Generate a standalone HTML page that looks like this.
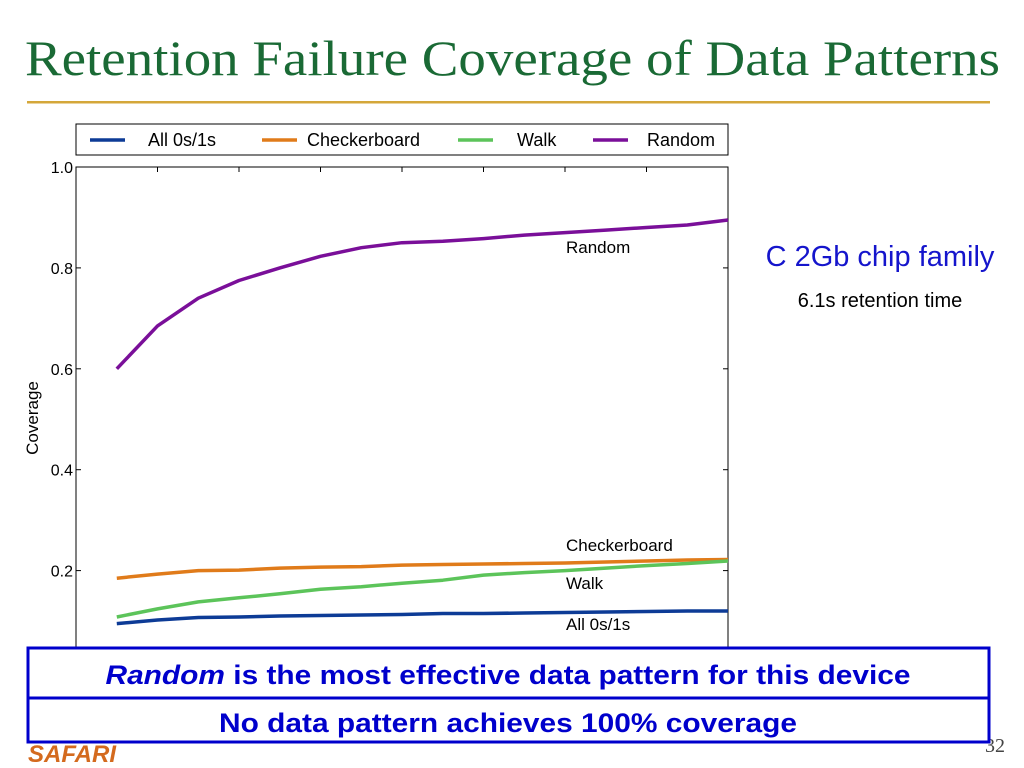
<!DOCTYPE html>
<html><head><meta charset="utf-8"><style>
html,body{margin:0;padding:0;background:#fff;}
svg{display:block;}
</style></head><body>
<svg id="s" width="1024" height="768" viewBox="0 0 1024 768" xmlns="http://www.w3.org/2000/svg">
<text x="25" y="75" font-family="Liberation Serif, serif" font-size="50" fill="#1a6a35" textLength="975" lengthAdjust="spacingAndGlyphs">Retention Failure Coverage of Data Patterns</text>
<rect x="27" y="101" width="963" height="2.5" fill="#d4a73a"/>
<g id="chart"></g>
<text x="880" y="266" text-anchor="middle" font-family="Liberation Sans, sans-serif" font-size="29" fill="#1515cc">C 2Gb chip family</text>
<text x="880" y="307" text-anchor="middle" font-family="Liberation Sans, sans-serif" font-size="20" fill="#000">6.1s retention time</text>
<text x="28" y="762" font-family="Liberation Sans, sans-serif" font-size="24" font-weight="bold" font-style="italic" fill="#d46a1e">SAFARI</text>
<text x="985" y="752" font-family="Liberation Serif, serif" font-size="20" fill="#444">32</text>
<rect x="28" y="648" width="961" height="50" fill="#fff" stroke="#0000cc" stroke-width="3"/>
<text x="508" y="684" text-anchor="middle" font-family="Liberation Sans, sans-serif" font-size="27" font-weight="bold" fill="#0000cc" textLength="805" lengthAdjust="spacingAndGlyphs"><tspan font-style="italic">Random</tspan> is the most effective data pattern for this device</text>
<rect x="28" y="698" width="961" height="44" fill="#fff" stroke="#0000cc" stroke-width="3"/>
<text x="508" y="732" text-anchor="middle" font-family="Liberation Sans, sans-serif" font-size="27" font-weight="bold" fill="#0000cc" textLength="578" lengthAdjust="spacingAndGlyphs">No data pattern achieves 100% coverage</text>
</svg>
<script>
const xs = [0,1,2,3,4,5,6,7,8,9,10,11,12,13,14,15];
const seriesNames = ["All 0s/1s","Checkerboard","Walk","Random"];
const all0s = [0.095,0.102,0.107,0.108,0.110,0.111,0.112,0.113,0.115,0.115,0.116,0.117,0.118,0.119,0.120,0.120];
const checker = [0.185,0.193,0.200,0.201,0.205,0.207,0.208,0.211,0.212,0.213,0.214,0.215,0.217,0.219,0.221,0.222];
const walk = [0.108,0.124,0.138,0.146,0.154,0.163,0.168,0.175,0.181,0.191,0.196,0.200,0.205,0.210,0.214,0.219];
const random = [0.60,0.685,0.74,0.775,0.80,0.823,0.84,0.85,0.853,0.858,0.865,0.87,0.875,0.88,0.885,0.895];
const yTicks = [0.2,0.4,0.6,0.8,1.0];
const yTickLabels = ["0.2","0.4","0.6","0.8","1.0"];
const xTicks = [1,3,5,7,9,11,13,15];

const NS="http://www.w3.org/2000/svg";
const g=document.getElementById('chart');
const L=76,R=728,T=167,B=671.5;
const xMin=-1,xMax=15;
function X(v){return L+(v-xMin)/(xMax-xMin)*(R-L);}
function Y(v){return B-v*(B-T);}
function mk(tag,attrs,parent){const e=document.createElementNS(NS,tag);for(const k in attrs)e.setAttribute(k,attrs[k]);(parent||g).appendChild(e);return e;}

const frame=mk('rect',{x:L,y:T,width:R-L,height:B-T,fill:'#fff',stroke:'#000','stroke-width':1});



yTicks.forEach((t,i)=>{
  const y=Y(t);
  const l=mk('line',{x1:L,x2:L+5,y1:y,y2:y,stroke:'#000'});
  
  
  const l2=mk('line',{x1:R-5,x2:R,y1:y,y2:y,stroke:'#000'});
  
  
  const tx=mk('text',{x:L-3,y:y+6,'text-anchor':'end','font-family':'Liberation Sans, sans-serif','font-size':16,fill:'#000'});
  tx.textContent=yTickLabels[i];
  
  
});
xTicks.forEach(t=>{
  const x=X(t);
  const l=mk('line',{x1:x,x2:x,y1:T,y2:T+5,stroke:'#000'});
  
  
});
const yt=mk('text',{x:0,y:0,transform:'translate(38,418) rotate(-90)','text-anchor':'middle','font-family':'Liberation Sans, sans-serif','font-size':17,fill:'#000'});
yt.textContent='Coverage';



const colors=['#0d3b96','#e07b1a','#5cc45a','#7a0f99'];
const data=[all0s,checker,walk,random];
const keys=['all0s','checkerboard','walk','random'];
data.forEach((arr,si)=>{
  const d=arr.map((v,i)=>(i?'L':'M')+X(xs[i]).toFixed(1)+','+Y(v).toFixed(1)).join(' ');
  const p=mk('path',{d:d,fill:'none',stroke:colors[si],'stroke-width':3.5,'stroke-linejoin':'round'});
  
  
});

const ann=[['Random',566,253],['Checkerboard',566,551],['Walk',566,589],['All 0s/1s',566,630]];
ann.forEach(a=>{
  const t=mk('text',{x:a[1],y:a[2],'font-family':'Liberation Sans, sans-serif','font-size':17,fill:'#000'});
  t.textContent=a[0];
  
  
});

const lb=mk('rect',{x:76,y:124,width:652,height:31,fill:'#fff',stroke:'#000','stroke-width':1});


const lx=[[90,148],[262,307],[458,517],[593,647]];
seriesNames.forEach((n,i)=>{
  const l=mk('line',{x1:lx[i][0],x2:lx[i][0]+35,y1:140,y2:140,stroke:colors[i],'stroke-width':3.5});
  
  
  const t=mk('text',{x:lx[i][1],y:146,'font-family':'Liberation Sans, sans-serif','font-size':18,fill:'#000'});
  t.textContent=n;
  
  
});
</script>
</body></html>
